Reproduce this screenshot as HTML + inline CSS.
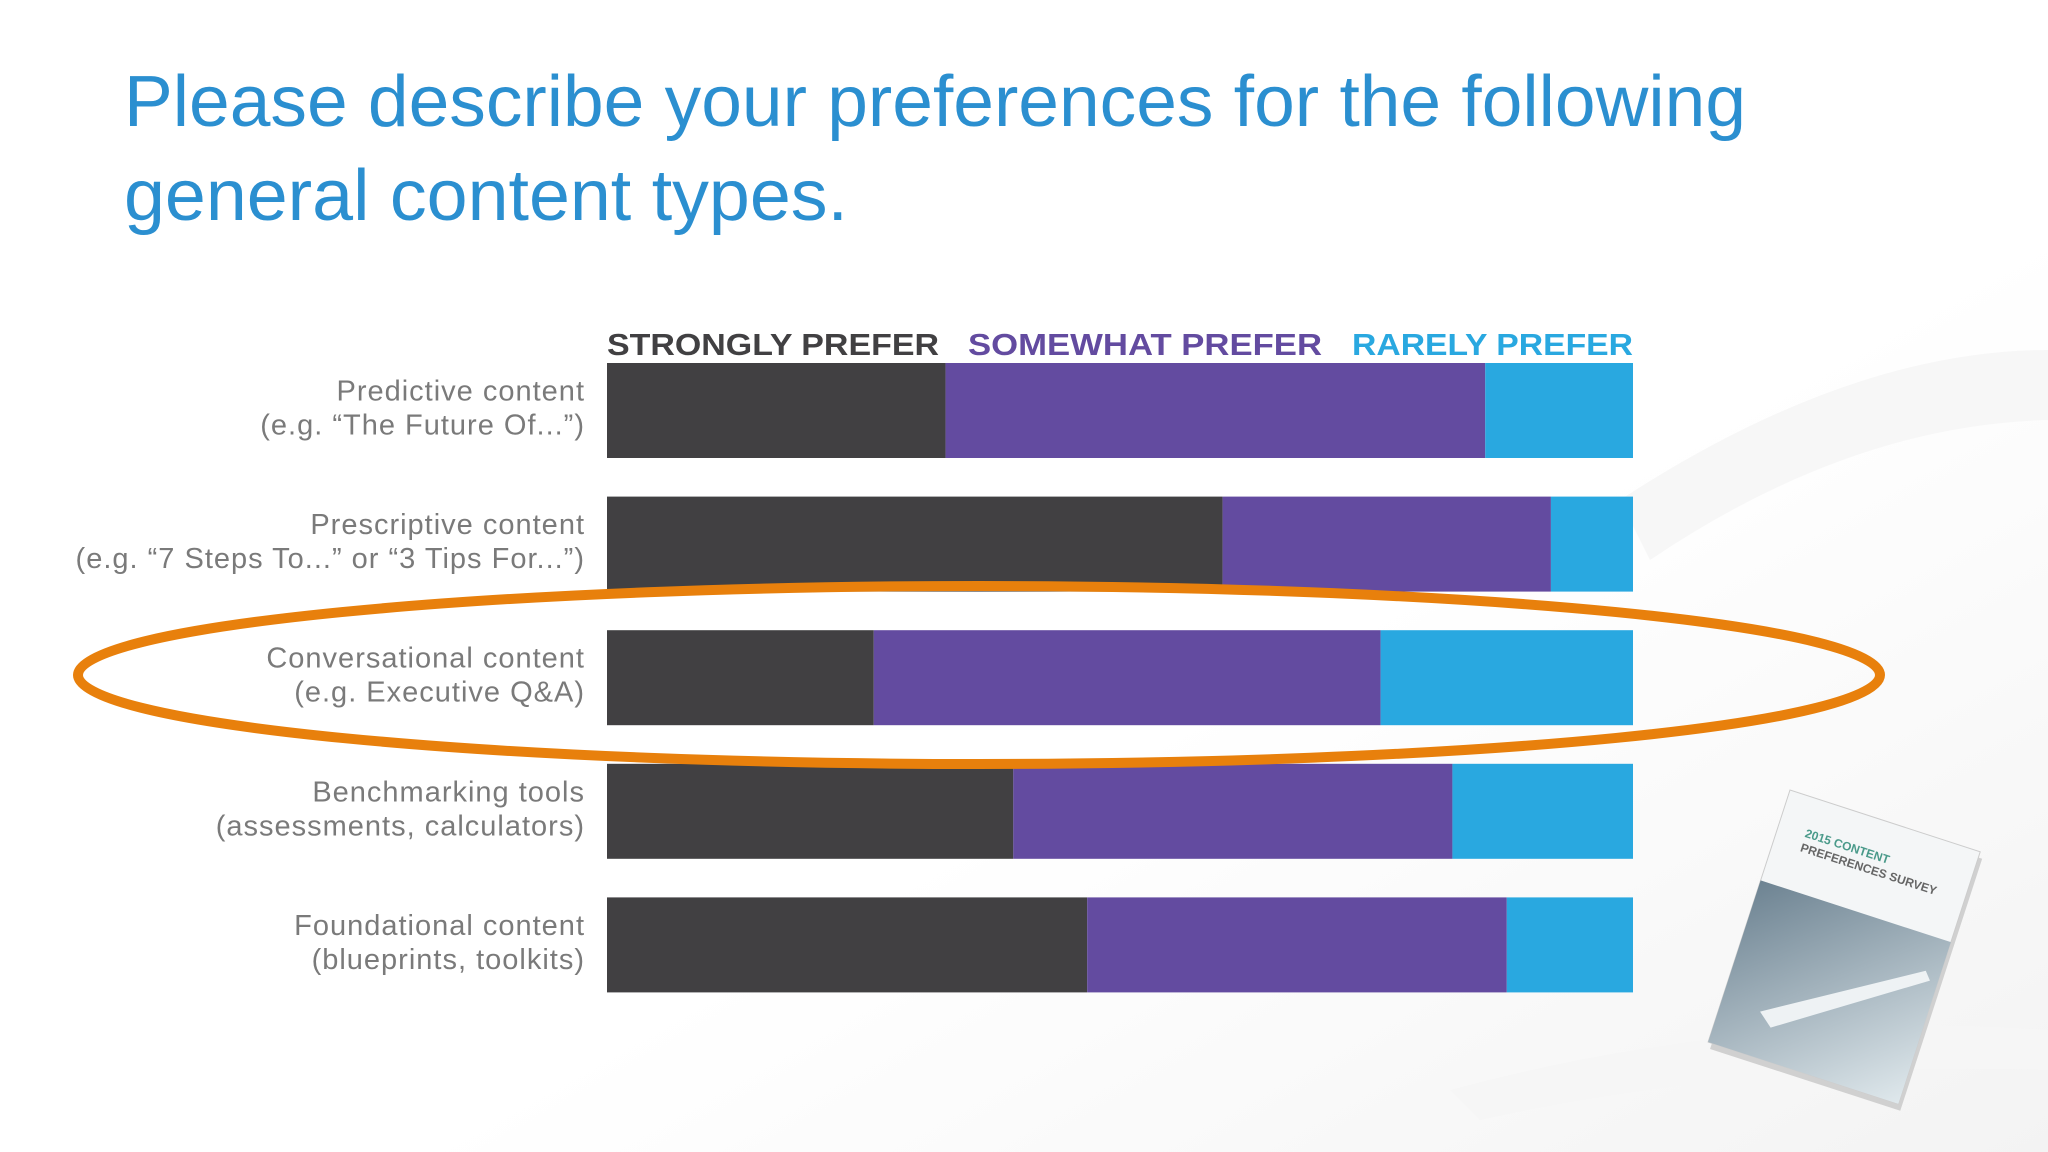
<!DOCTYPE html>
<html><head><meta charset="utf-8"><style>
html,body{margin:0;padding:0;background:#fff;}
svg{display:block;font-family:"Liberation Sans",sans-serif;}
</style></head><body>
<svg id="chart" width="2048" height="1152" viewBox="0 0 2048 1152" xmlns="http://www.w3.org/2000/svg">
<defs>
<linearGradient id="bg" x1="0" y1="0" x2="1" y2="1">
<stop offset="0" stop-color="#ffffff"/><stop offset="0.6" stop-color="#ffffff"/><stop offset="1" stop-color="#f3f3f3"/>
</linearGradient>
<linearGradient id="photo" x1="0" y1="0" x2="1" y2="1">
<stop offset="0" stop-color="#6d8392"/><stop offset="1" stop-color="#dfe8ec"/>
</linearGradient>
</defs>
<rect x="0" y="0" width="2048" height="1152" fill="url(#bg)"/>
<path d="M1620 500 Q1850 350 2048 350 L2048 420 Q1850 425 1650 560 Z" fill="#f7f7f7"/>
<path d="M1450 1090 Q1750 1010 2048 1030 L2048 1070 Q1750 1060 1480 1120 Z" fill="#f6f6f6"/>
<text x="124" y="126" font-size="72" fill="#2b8fd0" textLength="1622" lengthAdjust="spacingAndGlyphs">Please describe your preferences for the following</text>
<text x="124" y="220" font-size="72" fill="#2b8fd0" textLength="724" lengthAdjust="spacingAndGlyphs">general content types.</text>
<g font-weight="bold" font-size="31">
<text x="607" y="355" fill="#414042" textLength="332" lengthAdjust="spacingAndGlyphs">STRONGLY PREFER</text>
<text x="968" y="355" fill="#634ba0" textLength="354" lengthAdjust="spacingAndGlyphs">SOMEWHAT PREFER</text>
<text x="1352" y="355" fill="#29a8e0" textLength="281" lengthAdjust="spacingAndGlyphs">RARELY PREFER</text>
</g>
<g id="bars"></g>
<g id="labels"></g>
<ellipse cx="979" cy="675" rx="901" ry="89" fill="none" stroke="#e8800c" stroke-width="10"/>
<g transform="translate(1790,790) rotate(18)">
<rect x="4" y="6" width="200" height="265" fill="#d0d0d0"/>
<rect x="0" y="0" width="200" height="265" fill="#f4f6f7" stroke="#ccc"/>
<rect x="0" y="95" width="200" height="170" fill="url(#photo)"/>
<path d="M40 220 L185 130 L192 138 L55 232 Z" fill="#eef2f4"/>
<text x="28" y="40" font-size="12" font-weight="bold" fill="#4a9a8a">2015 CONTENT</text>
<text x="28" y="55" font-size="12" font-weight="bold" fill="#666">PREFERENCES SURVEY</text>
</g>
</svg>
<script>
const categories1 = ["Predictive content","Prescriptive content","Conversational content","Benchmarking tools","Foundational content"];
const categories2 = ["(e.g. \u201cThe Future Of...\u201d)","(e.g. \u201c7 Steps To...\u201d or \u201c3 Tips For...\u201d)","(e.g. Executive Q&A)","(assessments, calculators)","(blueprints, toolkits)"];
const stronglyPrefer = [33, 60, 26, 39.6, 46.8];
const somewhatPrefer = [52.6, 32, 49.4, 42.8, 40.9];
const rarelyPrefer = [14.4, 8, 24.6, 17.6, 12.3];
const seriesColors = ["#414042","#634ba0","#29a8e0"];
const seriesNames = ["strongly","somewhat","rarely"];

const NS = "http://www.w3.org/2000/svg";
const x0 = 607, x1 = 1633, top0 = 363, step = 133.6, barH = 95;
function xScale(v){ return x0 + v/100*(x1-x0); }
function yBand(i){ return top0 + i*step; }
const gb = document.getElementById("bars"), gl = document.getElementById("labels");
const series = [stronglyPrefer, somewhatPrefer, rarelyPrefer];
categories1.forEach((c,i)=>{
  let cum = 0;
  series.forEach((s,k)=>{
    const r = document.createElementNS(NS,"rect");
    
    
    const a = xScale(cum), b = xScale(cum + s[i]);
    r.setAttribute("x", a); r.setAttribute("width", Math.max(0,b-a));
    r.setAttribute("y", yBand(i)); r.setAttribute("height", barH);
    r.setAttribute("fill", seriesColors[k]);
    gb.appendChild(r);
    cum += s[i];
  });
  const cy = yBand(i) + barH/2;
  [[c, cy-10],[categories2[i], cy+24]].forEach((p,j)=>{
    const t = document.createElementNS(NS,"text");
    
    
    t.setAttribute("x", 585); t.setAttribute("y", p[1]);
    t.setAttribute("text-anchor","end"); t.setAttribute("font-size","29");
    t.setAttribute("letter-spacing","1");
    t.setAttribute("fill","#7a7a7a");
    t.textContent = p[0];
    gl.appendChild(t);
  });
});
</script>
</body></html>
